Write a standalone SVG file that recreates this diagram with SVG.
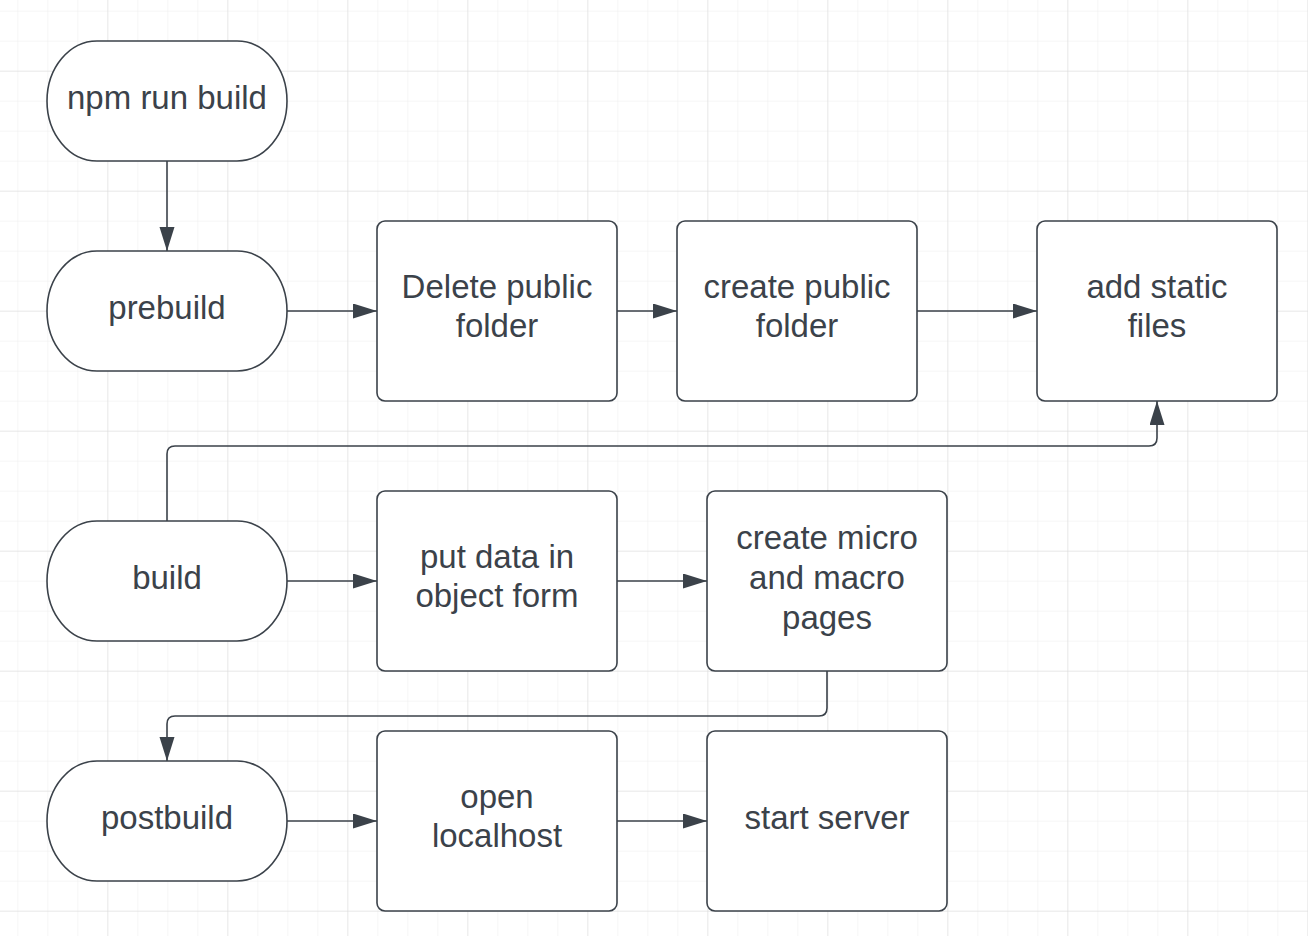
<svg xmlns="http://www.w3.org/2000/svg" width="1308" height="936" viewBox="0 0 1308 936">
<defs>
<pattern id="minor" x="17.3" y="10.7" width="30" height="30" patternUnits="userSpaceOnUse">
<path d="M0 0V30M0 0H30" fill="none" stroke="#ededed" stroke-width="1"/>
</pattern>
<pattern id="major" x="107.3" y="70.7" width="120" height="120" patternUnits="userSpaceOnUse">
<path d="M0 0V120M0 0H120" fill="none" stroke="#dcdcdc" stroke-width="1"/>
</pattern>
<marker id="arr" markerUnits="userSpaceOnUse" markerWidth="26" markerHeight="18" refX="24" refY="7.5" orient="auto">
<path d="M0 0L24 7.5L0 15Z" fill="#3b424a"/>
</marker>
</defs>
<style>
.shape{fill:#ffffff;stroke:#3b424a;stroke-width:1.6}
.lbl{font-family:"Liberation Sans",Arial,sans-serif;font-size:33px;fill:#3b424a;text-anchor:middle}
.conn{fill:none;stroke:#3b424a;stroke-width:1.6;marker-end:url(#arr)}
</style>
<rect width="1308" height="936" fill="#ffffff"/>
<rect width="1308" height="936" fill="url(#minor)"/>
<rect width="1308" height="936" fill="url(#major)"/>

<g id="connectors">
<path class="conn" d="M167 161V251"/>
<path class="conn" d="M287 311H377"/>
<path class="conn" d="M617 311H677"/>
<path class="conn" d="M917 311H1037"/>
<path class="conn" d="M167 521V454Q167 446 175 446H1149Q1157 446 1157 438V401"/>
<path class="conn" d="M287 581H377"/>
<path class="conn" d="M617 581H707"/>
<path class="conn" d="M827 671V708Q827 716 819 716H175Q167 716 167 724V761"/>
<path class="conn" d="M287 821H377"/>
<path class="conn" d="M617 821H707"/>
</g>

<g id="npm-run-build">
<rect class="shape" x="47" y="41" width="240" height="120" rx="50" ry="60"/>
<text class="lbl" x="167" y="109">npm run build</text>
</g>
<g id="prebuild">
<rect class="shape" x="47" y="251" width="240" height="120" rx="50" ry="60"/>
<text class="lbl" x="167" y="319">prebuild</text>
</g>
<g id="build">
<rect class="shape" x="47" y="521" width="240" height="120" rx="50" ry="60"/>
<text class="lbl" x="167" y="589">build</text>
</g>
<g id="postbuild">
<rect class="shape" x="47" y="761" width="240" height="120" rx="50" ry="60"/>
<text class="lbl" x="167" y="829">postbuild</text>
</g>

<g id="delete-public-folder">
<rect class="shape" x="377" y="221" width="240" height="180" rx="8"/>
<text class="lbl" x="497" y="298">Delete public</text>
<text class="lbl" x="497" y="337">folder</text>
</g>
<g id="create-public-folder">
<rect class="shape" x="677" y="221" width="240" height="180" rx="8"/>
<text class="lbl" x="797" y="298">create public</text>
<text class="lbl" x="797" y="337">folder</text>
</g>
<g id="add-static-files">
<rect class="shape" x="1037" y="221" width="240" height="180" rx="8"/>
<text class="lbl" x="1157" y="298">add static</text>
<text class="lbl" x="1157" y="337">files</text>
</g>
<g id="put-data">
<rect class="shape" x="377" y="491" width="240" height="180" rx="8"/>
<text class="lbl" x="497" y="568">put data in</text>
<text class="lbl" x="497" y="607">object form</text>
</g>
<g id="create-pages">
<rect class="shape" x="707" y="491" width="240" height="180" rx="8"/>
<text class="lbl" x="827" y="549">create micro</text>
<text class="lbl" x="827" y="589">and macro</text>
<text class="lbl" x="827" y="629">pages</text>
</g>
<g id="open-localhost">
<rect class="shape" x="377" y="731" width="240" height="180" rx="8"/>
<text class="lbl" x="497" y="808">open</text>
<text class="lbl" x="497" y="847">localhost</text>
</g>
<g id="start-server">
<rect class="shape" x="707" y="731" width="240" height="180" rx="8"/>
<text class="lbl" x="827" y="829">start server</text>
</g>
</svg>
